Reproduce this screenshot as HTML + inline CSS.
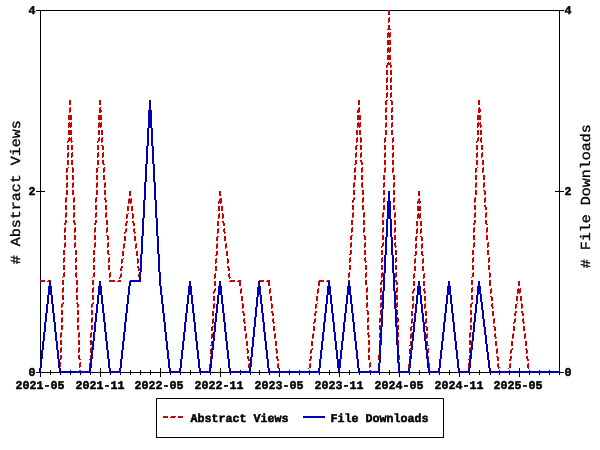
<!DOCTYPE html>
<html><head><meta charset="utf-8"><title>Chart</title>
<style>
html,body{margin:0;padding:0;background:#fff;overflow:hidden;}
svg{display:block;}
text{font-family:"Liberation Mono","DejaVu Sans Mono",monospace;fill:#000;text-rendering:geometricPrecision;}
.mb{font-size:11.8px;font-weight:bold;stroke:#000;stroke-width:0.5px;stroke-linejoin:miter;}
.lg{font-size:15px;stroke:#000;stroke-width:0.35px;}
</style></head>
<body>
<svg width="600" height="450" viewBox="0 0 600 450">
<rect width="600" height="450" fill="#fff"/>
<g shape-rendering="crispEdges">
<rect x="40" y="10" width="520" height="1"/>
<rect x="40" y="10" width="1" height="363"/>
<rect x="559" y="10" width="1" height="363"/>
<rect x="40" y="372" width="520" height="1"/>
<rect x="40" y="368" width="1" height="9"/>
<rect x="50" y="370" width="1" height="5"/>
<rect x="60" y="370" width="1" height="5"/>
<rect x="70" y="370" width="1" height="5"/>
<rect x="80" y="370" width="1" height="5"/>
<rect x="90" y="370" width="1" height="5"/>
<rect x="100" y="368" width="1" height="9"/>
<rect x="110" y="370" width="1" height="5"/>
<rect x="120" y="370" width="1" height="5"/>
<rect x="130" y="370" width="1" height="5"/>
<rect x="140" y="370" width="1" height="5"/>
<rect x="150" y="370" width="1" height="5"/>
<rect x="160" y="368" width="1" height="9"/>
<rect x="170" y="370" width="1" height="5"/>
<rect x="180" y="370" width="1" height="5"/>
<rect x="190" y="370" width="1" height="5"/>
<rect x="200" y="370" width="1" height="5"/>
<rect x="210" y="370" width="1" height="5"/>
<rect x="220" y="368" width="1" height="9"/>
<rect x="230" y="370" width="1" height="5"/>
<rect x="240" y="370" width="1" height="5"/>
<rect x="250" y="370" width="1" height="5"/>
<rect x="259" y="370" width="1" height="5"/>
<rect x="269" y="370" width="1" height="5"/>
<rect x="279" y="368" width="1" height="9"/>
<rect x="289" y="370" width="1" height="5"/>
<rect x="299" y="370" width="1" height="5"/>
<rect x="309" y="370" width="1" height="5"/>
<rect x="319" y="370" width="1" height="5"/>
<rect x="329" y="370" width="1" height="5"/>
<rect x="339" y="368" width="1" height="9"/>
<rect x="349" y="370" width="1" height="5"/>
<rect x="359" y="370" width="1" height="5"/>
<rect x="370" y="370" width="1" height="5"/>
<rect x="379" y="370" width="1" height="5"/>
<rect x="389" y="370" width="1" height="5"/>
<rect x="399" y="368" width="1" height="9"/>
<rect x="409" y="370" width="1" height="5"/>
<rect x="419" y="370" width="1" height="5"/>
<rect x="429" y="370" width="1" height="5"/>
<rect x="439" y="370" width="1" height="5"/>
<rect x="449" y="370" width="1" height="5"/>
<rect x="459" y="368" width="1" height="9"/>
<rect x="469" y="370" width="1" height="5"/>
<rect x="479" y="370" width="1" height="5"/>
<rect x="490" y="370" width="1" height="5"/>
<rect x="499" y="370" width="1" height="5"/>
<rect x="509" y="370" width="1" height="5"/>
<rect x="519" y="368" width="1" height="9"/>
<rect x="529" y="370" width="1" height="5"/>
<rect x="539" y="370" width="1" height="5"/>
<rect x="549" y="370" width="1" height="5"/>
<rect x="559" y="370" width="1" height="5"/>
<rect x="36" y="372" width="9" height="1"/>
<rect x="555" y="372" width="9" height="1"/>
<rect x="36" y="191" width="9" height="1"/>
<rect x="555" y="191" width="9" height="1"/>
<rect x="36" y="10" width="9" height="1"/>
<rect x="555" y="10" width="9" height="1"/>
<path fill="#cc0000" d="M388,10h2v5h-2zM389,17h1v1h-1zM388,18h2v4h-2zM388,22h1v1h-1zM388,25h2v4h-2zM387,29h4v1h-4zM388,32h1v1h-1zM390,32h1v1h-1zM387,33h4v4h-4zM387,37h1v1h-1zM389,37h1v1h-1zM387,40h4v5h-4zM388,47h1v1h-1zM390,47h1v1h-1zM387,48h4v4h-4zM387,52h1v1h-1zM389,52h1v1h-1zM387,55h4v5h-4zM388,62h1v1h-1zM390,62h1v1h-1zM387,63h4v2h-4zM386,65h2v2h-2zM390,65h2v2h-2zM386,67h1v1h-1zM390,67h1v1h-1zM386,70h2v5h-2zM390,70h2v5h-2zM387,77h1v1h-1zM391,77h1v1h-1zM386,78h2v4h-2zM390,78h2v4h-2zM386,82h1v1h-1zM390,82h1v1h-1zM386,85h2v5h-2zM390,85h2v5h-2zM387,92h1v1h-1zM391,92h1v1h-1zM386,93h2v4h-2zM390,93h2v4h-2zM386,97h1v1h-1zM390,97h1v1h-1zM69,100h2v5h-2zM99,100h2v5h-2zM149,100h2v5h-2zM358,100h2v5h-2zM386,100h2v1h-2zM390,100h2v1h-2zM478,100h2v5h-2zM385,101h2v4h-2zM391,101h2v4h-2zM70,107h1v1h-1zM100,107h1v1h-1zM150,107h1v1h-1zM359,107h1v1h-1zM386,107h1v1h-1zM392,107h1v1h-1zM479,107h1v1h-1zM69,108h2v4h-2zM99,108h2v2h-2zM149,108h2v2h-2zM358,108h2v2h-2zM385,108h2v4h-2zM391,108h2v4h-2zM478,108h2v1h-2zM478,109h3v3h-3zM99,110h3v2h-3zM148,110h4v2h-4zM357,110h3v2h-3zM69,112h1v1h-1zM99,112h2v1h-2zM148,112h1v1h-1zM150,112h1v1h-1zM357,112h2v1h-2zM385,112h1v1h-1zM391,112h1v1h-1zM478,112h2v1h-2zM68,115h4v5h-4zM98,115h4v5h-4zM148,115h4v5h-4zM357,115h4v5h-4zM385,115h2v5h-2zM391,115h2v5h-2zM477,115h4v5h-4zM69,122h1v1h-1zM71,122h1v1h-1zM99,122h1v1h-1zM101,122h1v1h-1zM149,122h1v1h-1zM151,122h1v1h-1zM358,122h1v1h-1zM360,122h1v1h-1zM386,122h1v1h-1zM392,122h1v1h-1zM478,122h1v1h-1zM480,122h1v1h-1zM68,123h4v4h-4zM98,123h4v4h-4zM148,123h4v4h-4zM357,123h4v4h-4zM385,123h2v4h-2zM391,123h2v4h-2zM477,123h4v2h-4zM477,125h2v2h-2zM480,125h2v2h-2zM68,127h1v1h-1zM70,127h1v1h-1zM98,127h1v1h-1zM100,127h1v1h-1zM148,127h1v1h-1zM150,127h1v1h-1zM357,127h1v1h-1zM359,127h1v1h-1zM385,127h1v1h-1zM391,127h1v1h-1zM477,127h1v1h-1zM480,127h1v1h-1zM68,130h4v5h-4zM98,130h2v5h-2zM101,130h2v5h-2zM147,130h2v5h-2zM151,130h2v5h-2zM356,130h2v5h-2zM359,130h2v5h-2zM385,130h2v5h-2zM391,130h2v5h-2zM477,130h2v5h-2zM480,130h2v5h-2zM69,137h1v1h-1zM71,137h1v1h-1zM99,137h1v1h-1zM102,137h1v1h-1zM148,137h1v1h-1zM152,137h1v1h-1zM357,137h1v1h-1zM360,137h1v1h-1zM385,137h1v1h-1zM393,137h1v1h-1zM478,137h1v1h-1zM481,137h1v1h-1zM68,138h4v3h-4zM98,138h2v3h-2zM101,138h2v4h-2zM147,138h2v4h-2zM151,138h2v4h-2zM356,138h2v4h-2zM360,138h2v4h-2zM384,138h2v4h-2zM392,138h2v4h-2zM477,138h2v3h-2zM480,138h2v4h-2zM67,141h2v1h-2zM71,141h2v1h-2zM97,141h2v1h-2zM476,141h2v1h-2zM67,142h1v1h-1zM71,142h1v1h-1zM97,142h1v1h-1zM101,142h1v1h-1zM147,142h1v1h-1zM151,142h1v1h-1zM356,142h1v1h-1zM360,142h1v1h-1zM384,142h1v1h-1zM392,142h1v1h-1zM476,142h1v1h-1zM481,142h1v1h-1zM67,145h2v5h-2zM71,145h2v5h-2zM97,145h2v5h-2zM101,145h2v1h-2zM147,145h2v1h-2zM151,145h2v1h-2zM356,145h2v1h-2zM360,145h2v5h-2zM384,145h2v5h-2zM392,145h2v5h-2zM476,145h2v5h-2zM481,145h2v5h-2zM102,146h2v4h-2zM146,146h2v4h-2zM152,146h2v4h-2zM355,146h2v4h-2zM68,152h1v1h-1zM72,152h1v1h-1zM98,152h1v1h-1zM103,152h1v1h-1zM147,152h1v1h-1zM153,152h1v1h-1zM356,152h1v1h-1zM361,152h1v1h-1zM385,152h1v1h-1zM393,152h1v1h-1zM477,152h1v1h-1zM482,152h1v1h-1zM67,153h2v4h-2zM71,153h2v4h-2zM97,153h2v4h-2zM102,153h2v4h-2zM146,153h2v4h-2zM152,153h2v4h-2zM355,153h2v4h-2zM360,153h2v4h-2zM384,153h2v4h-2zM392,153h2v4h-2zM476,153h2v4h-2zM481,153h2v4h-2zM67,157h1v1h-1zM71,157h1v1h-1zM97,157h1v1h-1zM102,157h1v1h-1zM146,157h1v1h-1zM152,157h1v1h-1zM355,157h1v1h-1zM360,157h1v1h-1zM384,157h1v1h-1zM392,157h1v1h-1zM476,157h1v1h-1zM481,157h1v1h-1zM67,160h2v5h-2zM71,160h2v5h-2zM97,160h2v5h-2zM102,160h2v4h-2zM146,160h2v4h-2zM152,160h2v4h-2zM355,160h2v4h-2zM360,160h2v2h-2zM384,160h2v5h-2zM392,160h2v5h-2zM476,160h2v5h-2zM482,160h2v5h-2zM361,162h2v3h-2zM103,164h2v1h-2zM145,164h2v1h-2zM153,164h2v1h-2zM354,164h2v1h-2zM68,167h1v1h-1zM72,167h1v1h-1zM98,167h1v1h-1zM104,167h1v1h-1zM146,167h1v1h-1zM154,167h1v1h-1zM355,167h1v1h-1zM362,167h1v1h-1zM385,167h1v1h-1zM393,167h1v1h-1zM477,167h1v1h-1zM483,167h1v1h-1zM66,168h2v4h-2zM72,168h2v4h-2zM96,168h2v4h-2zM103,168h2v4h-2zM145,168h2v4h-2zM153,168h2v4h-2zM354,168h2v4h-2zM361,168h2v4h-2zM384,168h2v4h-2zM392,168h2v4h-2zM475,168h2v4h-2zM482,168h2v4h-2zM66,172h1v1h-1zM72,172h1v1h-1zM96,172h1v1h-1zM103,172h1v1h-1zM145,172h1v1h-1zM153,172h1v1h-1zM354,172h1v1h-1zM361,172h1v1h-1zM384,172h1v1h-1zM392,172h1v1h-1zM475,172h1v1h-1zM482,172h1v1h-1zM66,175h2v5h-2zM72,175h2v5h-2zM96,175h2v5h-2zM103,175h2v5h-2zM145,175h2v5h-2zM153,175h2v5h-2zM354,175h2v5h-2zM361,175h2v5h-2zM383,175h2v5h-2zM393,175h2v5h-2zM475,175h2v5h-2zM483,175h2v5h-2zM67,182h1v1h-1zM73,182h1v1h-1zM97,182h1v1h-1zM105,182h1v1h-1zM145,182h1v1h-1zM155,182h1v1h-1zM354,182h1v1h-1zM362,182h1v1h-1zM384,182h1v1h-1zM394,182h1v1h-1zM476,182h1v1h-1zM484,182h1v1h-1zM66,183h2v4h-2zM72,183h2v4h-2zM96,183h2v4h-2zM104,183h2v4h-2zM144,183h2v4h-2zM154,183h2v4h-2zM353,183h2v4h-2zM361,183h2v4h-2zM383,183h2v4h-2zM393,183h2v4h-2zM475,183h2v4h-2zM483,183h2v4h-2zM66,187h1v1h-1zM72,187h1v1h-1zM96,187h1v1h-1zM104,187h1v1h-1zM144,187h1v1h-1zM154,187h1v1h-1zM353,187h1v1h-1zM362,187h1v1h-1zM383,187h1v1h-1zM393,187h1v1h-1zM475,187h1v1h-1zM483,187h1v1h-1zM66,190h2v5h-2zM72,190h2v5h-2zM96,190h2v5h-2zM104,190h2v5h-2zM144,190h2v5h-2zM154,190h2v5h-2zM353,190h2v5h-2zM362,190h2v5h-2zM383,190h2v5h-2zM393,190h2v5h-2zM475,190h2v5h-2zM483,190h2v1h-2zM129,191h2v5h-2zM219,191h2v5h-2zM418,191h2v5h-2zM484,191h2v4h-2zM66,197h1v1h-1zM74,197h1v1h-1zM96,197h1v1h-1zM105,197h1v1h-1zM145,197h1v1h-1zM155,197h1v1h-1zM354,197h1v1h-1zM363,197h1v1h-1zM384,197h1v1h-1zM394,197h1v1h-1zM475,197h1v1h-1zM485,197h1v1h-1zM65,198h2v4h-2zM73,198h2v4h-2zM95,198h2v4h-2zM104,198h2v2h-2zM129,198h1v1h-1zM131,198h1v1h-1zM144,198h2v2h-2zM154,198h2v2h-2zM220,198h2v1h-2zM353,198h2v2h-2zM362,198h2v4h-2zM383,198h2v4h-2zM393,198h2v4h-2zM419,198h1v1h-1zM474,198h2v4h-2zM484,198h2v4h-2zM128,199h4v4h-4zM219,199h3v2h-3zM418,199h2v2h-2zM105,200h2v2h-2zM143,200h2v2h-2zM155,200h2v2h-2zM352,200h2v2h-2zM218,201h4v2h-4zM417,201h4v2h-4zM65,202h1v1h-1zM73,202h1v1h-1zM95,202h1v1h-1zM105,202h1v1h-1zM143,202h1v1h-1zM155,202h1v1h-1zM352,202h1v1h-1zM362,202h1v1h-1zM383,202h1v1h-1zM393,202h1v1h-1zM474,202h1v1h-1zM484,202h1v1h-1zM128,203h1v1h-1zM130,203h1v1h-1zM218,203h1v1h-1zM220,203h1v1h-1zM417,203h1v1h-1zM419,203h1v1h-1zM65,205h2v5h-2zM73,205h2v5h-2zM95,205h2v5h-2zM105,205h2v5h-2zM143,205h2v5h-2zM155,205h2v5h-2zM352,205h2v5h-2zM362,205h2v5h-2zM383,205h2v5h-2zM393,205h2v5h-2zM474,205h2v5h-2zM484,205h2v2h-2zM127,206h2v5h-2zM131,206h2v5h-2zM218,206h2v5h-2zM221,206h2v5h-2zM417,206h4v5h-4zM485,207h2v3h-2zM66,212h1v1h-1zM74,212h1v1h-1zM96,212h1v1h-1zM106,212h1v1h-1zM144,212h1v1h-1zM156,212h1v1h-1zM353,212h1v1h-1zM364,212h1v1h-1zM383,212h1v1h-1zM395,212h1v1h-1zM475,212h1v1h-1zM486,212h1v1h-1zM65,213h2v4h-2zM73,213h2v4h-2zM95,213h2v4h-2zM105,213h2v4h-2zM128,213h1v1h-1zM132,213h1v1h-1zM143,213h2v4h-2zM155,213h2v4h-2zM219,213h1v1h-1zM222,213h1v1h-1zM352,213h2v4h-2zM363,213h2v4h-2zM382,213h2v4h-2zM394,213h2v4h-2zM418,213h1v1h-1zM420,213h1v1h-1zM474,213h2v4h-2zM485,213h2v4h-2zM126,214h2v4h-2zM132,214h2v4h-2zM218,214h2v4h-2zM222,214h2v4h-2zM417,214h4v4h-4zM65,217h1v1h-1zM73,217h1v1h-1zM95,217h1v1h-1zM105,217h1v1h-1zM143,217h1v1h-1zM155,217h1v1h-1zM352,217h1v1h-1zM363,217h1v1h-1zM382,217h1v1h-1zM394,217h1v1h-1zM474,217h1v1h-1zM485,217h1v1h-1zM126,218h1v1h-1zM132,218h1v1h-1zM218,218h1v1h-1zM222,218h1v1h-1zM417,218h1v1h-1zM419,218h1v1h-1zM65,220h2v3h-2zM73,220h2v3h-2zM95,220h2v3h-2zM106,220h2v5h-2zM142,220h2v5h-2zM156,220h2v5h-2zM351,220h2v5h-2zM363,220h2v5h-2zM382,220h2v5h-2zM394,220h2v5h-2zM474,220h2v3h-2zM485,220h2v4h-2zM126,221h2v2h-2zM132,221h2v2h-2zM217,221h2v5h-2zM222,221h2v2h-2zM416,221h2v5h-2zM420,221h2v5h-2zM64,223h2v2h-2zM74,223h2v2h-2zM94,223h2v2h-2zM125,223h2v3h-2zM133,223h2v3h-2zM223,223h2v3h-2zM473,223h2v2h-2zM486,224h2v1h-2zM65,227h1v1h-1zM75,227h1v1h-1zM95,227h1v1h-1zM107,227h1v1h-1zM143,227h1v1h-1zM157,227h1v1h-1zM352,227h1v1h-1zM364,227h1v1h-1zM383,227h1v1h-1zM395,227h1v1h-1zM474,227h1v1h-1zM487,227h1v1h-1zM64,228h2v4h-2zM74,228h2v4h-2zM94,228h2v4h-2zM106,228h2v4h-2zM126,228h1v1h-1zM134,228h1v1h-1zM142,228h2v4h-2zM156,228h2v4h-2zM218,228h1v1h-1zM224,228h1v1h-1zM351,228h2v4h-2zM363,228h2v4h-2zM382,228h2v4h-2zM394,228h2v4h-2zM417,228h1v1h-1zM421,228h1v1h-1zM473,228h2v4h-2zM486,228h2v4h-2zM125,229h2v3h-2zM133,229h2v3h-2zM217,229h2v4h-2zM223,229h2v3h-2zM416,229h2v4h-2zM420,229h2v4h-2zM64,232h1v1h-1zM74,232h1v1h-1zM94,232h1v1h-1zM106,232h1v1h-1zM124,232h2v1h-2zM134,232h2v1h-2zM142,232h1v1h-1zM156,232h1v1h-1zM224,232h2v1h-2zM351,232h1v1h-1zM363,232h1v1h-1zM382,232h1v1h-1zM394,232h1v1h-1zM473,232h1v1h-1zM486,232h1v1h-1zM124,233h1v1h-1zM134,233h1v1h-1zM217,233h1v1h-1zM224,233h1v1h-1zM416,233h1v1h-1zM420,233h1v1h-1zM64,235h2v5h-2zM74,235h2v5h-2zM94,235h2v5h-2zM106,235h2v1h-2zM142,235h2v1h-2zM156,235h2v1h-2zM351,235h2v1h-2zM363,235h2v1h-2zM382,235h2v5h-2zM394,235h2v5h-2zM473,235h2v5h-2zM486,235h2v5h-2zM107,236h2v4h-2zM124,236h2v5h-2zM134,236h2v5h-2zM141,236h2v4h-2zM157,236h2v4h-2zM217,236h2v1h-2zM224,236h2v5h-2zM350,236h2v4h-2zM364,236h2v4h-2zM416,236h2v1h-2zM420,236h2v1h-2zM216,237h2v4h-2zM415,237h2v4h-2zM421,237h2v4h-2zM65,242h1v1h-1zM75,242h1v1h-1zM95,242h1v1h-1zM108,242h1v1h-1zM142,242h1v1h-1zM158,242h1v1h-1zM351,242h1v1h-1zM365,242h1v1h-1zM383,242h1v1h-1zM395,242h1v1h-1zM474,242h1v1h-1zM488,242h1v1h-1zM64,243h2v4h-2zM74,243h2v4h-2zM94,243h2v4h-2zM107,243h2v4h-2zM124,243h1v1h-1zM136,243h1v1h-1zM141,243h2v4h-2zM157,243h2v4h-2zM217,243h1v1h-1zM226,243h1v1h-1zM350,243h2v4h-2zM364,243h2v4h-2zM382,243h2v3h-2zM394,243h2v3h-2zM416,243h1v1h-1zM422,243h1v1h-1zM473,243h2v4h-2zM487,243h2v4h-2zM123,244h2v4h-2zM135,244h2v4h-2zM216,244h2v4h-2zM225,244h2v4h-2zM415,244h2v4h-2zM421,244h2v4h-2zM381,246h2v1h-2zM395,246h2v1h-2zM64,247h1v1h-1zM74,247h1v1h-1zM94,247h1v1h-1zM107,247h1v1h-1zM141,247h1v1h-1zM157,247h1v1h-1zM350,247h1v1h-1zM364,247h1v1h-1zM381,247h1v1h-1zM395,247h1v1h-1zM473,247h1v1h-1zM487,247h1v1h-1zM123,248h1v1h-1zM135,248h1v1h-1zM216,248h1v1h-1zM225,248h1v1h-1zM415,248h1v1h-1zM421,248h1v1h-1zM63,250h2v5h-2zM75,250h2v5h-2zM93,250h2v5h-2zM107,250h2v4h-2zM141,250h2v4h-2zM157,250h2v4h-2zM350,250h2v4h-2zM364,250h2v5h-2zM381,250h2v5h-2zM395,250h2v5h-2zM472,250h2v5h-2zM487,250h2v5h-2zM122,251h2v5h-2zM136,251h2v5h-2zM216,251h2v4h-2zM226,251h2v5h-2zM415,251h2v4h-2zM421,251h2v4h-2zM108,254h2v1h-2zM140,254h2v1h-2zM158,254h2v1h-2zM349,254h2v1h-2zM215,255h2v1h-2zM414,255h2v1h-2zM422,255h2v1h-2zM64,257h1v1h-1zM76,257h1v1h-1zM94,257h1v1h-1zM109,257h1v1h-1zM141,257h1v1h-1zM159,257h1v1h-1zM350,257h1v1h-1zM365,257h1v1h-1zM382,257h1v1h-1zM396,257h1v1h-1zM473,257h1v1h-1zM489,257h1v1h-1zM63,258h2v4h-2zM75,258h2v4h-2zM93,258h2v4h-2zM108,258h2v4h-2zM123,258h1v1h-1zM137,258h1v1h-1zM140,258h2v4h-2zM158,258h2v4h-2zM216,258h1v1h-1zM227,258h1v1h-1zM349,258h2v4h-2zM364,258h2v3h-2zM381,258h2v4h-2zM395,258h2v4h-2zM415,258h1v1h-1zM423,258h1v1h-1zM472,258h2v4h-2zM488,258h2v4h-2zM121,259h2v4h-2zM137,259h2v4h-2zM215,259h2v4h-2zM227,259h2v4h-2zM414,259h2v4h-2zM422,259h2v4h-2zM365,261h2v1h-2zM63,262h1v1h-1zM75,262h1v1h-1zM93,262h1v1h-1zM108,262h1v1h-1zM140,262h1v1h-1zM158,262h1v1h-1zM349,262h1v1h-1zM365,262h1v1h-1zM381,262h1v1h-1zM395,262h1v1h-1zM472,262h1v1h-1zM488,262h1v1h-1zM121,263h1v1h-1zM137,263h1v1h-1zM215,263h1v1h-1zM227,263h1v1h-1zM414,263h1v1h-1zM422,263h1v1h-1zM63,265h2v5h-2zM75,265h2v5h-2zM93,265h2v5h-2zM108,265h2v5h-2zM140,265h2v3h-2zM158,265h2v5h-2zM349,265h2v5h-2zM365,265h2v5h-2zM381,265h2v5h-2zM395,265h2v5h-2zM472,265h2v5h-2zM488,265h2v5h-2zM121,266h2v2h-2zM137,266h2v2h-2zM215,266h2v5h-2zM227,266h2v2h-2zM414,266h2v5h-2zM422,266h2v5h-2zM120,268h2v3h-2zM138,268h4v2h-4zM228,268h2v3h-2zM138,270h2v1h-2zM64,272h1v1h-1zM76,272h1v1h-1zM94,272h1v1h-1zM110,272h1v1h-1zM140,272h1v1h-1zM160,272h1v1h-1zM349,272h1v1h-1zM366,272h1v1h-1zM382,272h1v1h-1zM396,272h1v1h-1zM473,272h1v1h-1zM489,272h1v1h-1zM63,273h2v4h-2zM75,273h2v4h-2zM93,273h2v4h-2zM109,273h2v4h-2zM121,273h1v1h-1zM139,273h2v1h-2zM159,273h2v4h-2zM215,273h1v1h-1zM229,273h1v1h-1zM348,273h2v4h-2zM365,273h2v4h-2zM381,273h2v4h-2zM395,273h2v4h-2zM414,273h1v1h-1zM424,273h1v1h-1zM472,273h2v4h-2zM489,273h2v4h-2zM120,274h2v3h-2zM138,274h3v3h-3zM214,274h2v4h-2zM228,274h2v3h-2zM413,274h2v4h-2zM423,274h2v4h-2zM62,277h1v1h-1zM76,277h1v1h-1zM92,277h1v1h-1zM109,277h1v1h-1zM119,277h2v1h-2zM139,277h2v1h-2zM159,277h1v1h-1zM229,277h2v1h-2zM348,277h1v1h-1zM365,277h1v1h-1zM381,277h1v1h-1zM395,277h1v1h-1zM471,277h1v1h-1zM489,277h1v1h-1zM119,278h1v1h-1zM139,278h1v1h-1zM214,278h1v1h-1zM229,278h1v1h-1zM413,278h1v1h-1zM423,278h1v1h-1zM40,280h5v2h-5zM48,280h3v1h-3zM62,280h2v5h-2zM76,280h2v5h-2zM92,280h2v5h-2zM109,280h6v2h-6zM118,280h3v1h-3zM139,280h2v2h-2zM159,280h2v6h-2zM230,280h5v1h-5zM238,280h3v1h-3zM259,280h5v1h-5zM267,280h3v1h-3zM319,280h5v1h-5zM327,280h3v1h-3zM348,280h2v6h-2zM365,280h2v5h-2zM381,280h2v2h-2zM395,280h2v2h-2zM471,280h2v5h-2zM489,280h2v6h-2zM47,281h4v1h-4zM117,281h4v1h-4zM189,281h2v5h-2zM214,281h2v5h-2zM229,281h6v1h-6zM237,281h4v1h-4zM258,281h6v1h-6zM266,281h4v1h-4zM318,281h6v1h-6zM326,281h4v1h-4zM413,281h2v5h-2zM423,281h2v5h-2zM448,281h2v5h-2zM518,281h2v5h-2zM49,282h2v4h-2zM239,282h2v4h-2zM258,282h2v4h-2zM268,282h2v4h-2zM318,282h2v4h-2zM328,282h2v4h-2zM380,282h2v3h-2zM396,282h2v3h-2zM63,287h1v1h-1zM77,287h1v1h-1zM93,287h1v1h-1zM367,287h1v1h-1zM381,287h1v1h-1zM397,287h1v1h-1zM472,287h1v1h-1zM51,288h1v1h-1zM62,288h2v4h-2zM76,288h2v4h-2zM92,288h2v4h-2zM161,288h1v1h-1zM189,288h1v1h-1zM191,288h1v1h-1zM215,288h1v1h-1zM241,288h1v1h-1zM258,288h1v1h-1zM270,288h1v1h-1zM318,288h1v1h-1zM330,288h1v1h-1zM348,288h1v1h-1zM366,288h2v4h-2zM380,288h2v4h-2zM396,288h2v4h-2zM414,288h1v1h-1zM424,288h1v1h-1zM448,288h1v1h-1zM450,288h1v1h-1zM471,288h2v4h-2zM491,288h1v1h-1zM518,288h1v1h-1zM520,288h1v1h-1zM50,289h2v4h-2zM160,289h2v4h-2zM188,289h4v4h-4zM214,289h2v2h-2zM240,289h2v4h-2zM257,289h2v4h-2zM269,289h2v4h-2zM317,289h2v4h-2zM329,289h2v4h-2zM347,289h2v4h-2zM413,289h2v2h-2zM423,289h2v2h-2zM447,289h4v4h-4zM490,289h2v4h-2zM517,289h4v4h-4zM213,291h2v2h-2zM412,291h2v2h-2zM424,291h2v2h-2zM62,292h1v1h-1zM76,292h1v1h-1zM92,292h1v1h-1zM366,292h1v1h-1zM380,292h1v1h-1zM396,292h1v1h-1zM471,292h1v1h-1zM50,293h1v1h-1zM160,293h1v1h-1zM188,293h1v1h-1zM190,293h1v1h-1zM213,293h1v1h-1zM240,293h1v1h-1zM257,293h1v1h-1zM269,293h1v1h-1zM317,293h1v1h-1zM329,293h1v1h-1zM347,293h1v1h-1zM412,293h1v1h-1zM424,293h1v1h-1zM447,293h1v1h-1zM449,293h1v1h-1zM490,293h1v1h-1zM517,293h1v1h-1zM519,293h1v1h-1zM62,295h2v5h-2zM76,295h2v5h-2zM92,295h2v5h-2zM366,295h2v5h-2zM380,295h2v5h-2zM396,295h2v5h-2zM471,295h2v5h-2zM51,296h2v5h-2zM161,296h2v5h-2zM187,296h2v5h-2zM191,296h2v5h-2zM213,296h2v5h-2zM241,296h2v5h-2zM257,296h2v1h-2zM270,296h2v5h-2zM316,296h2v5h-2zM330,296h2v5h-2zM346,296h2v5h-2zM412,296h2v5h-2zM424,296h2v5h-2zM446,296h2v5h-2zM450,296h2v5h-2zM490,296h2v1h-2zM516,296h2v5h-2zM520,296h2v5h-2zM256,297h2v4h-2zM491,297h2v4h-2zM63,302h1v1h-1zM77,302h1v1h-1zM93,302h1v1h-1zM367,302h1v1h-1zM381,302h1v1h-1zM397,302h1v1h-1zM472,302h1v1h-1zM52,303h1v1h-1zM62,303h2v1h-2zM76,303h2v1h-2zM92,303h2v1h-2zM162,303h1v1h-1zM188,303h1v1h-1zM192,303h1v1h-1zM214,303h1v1h-1zM242,303h1v1h-1zM257,303h1v1h-1zM271,303h1v1h-1zM317,303h1v1h-1zM331,303h1v1h-1zM347,303h1v1h-1zM366,303h2v4h-2zM380,303h2v4h-2zM396,303h2v4h-2zM413,303h1v1h-1zM425,303h1v1h-1zM447,303h1v1h-1zM451,303h1v1h-1zM471,303h2v1h-2zM492,303h1v1h-1zM517,303h1v1h-1zM521,303h1v1h-1zM52,304h2v4h-2zM61,304h2v3h-2zM77,304h2v3h-2zM91,304h2v3h-2zM162,304h2v4h-2zM186,304h2v4h-2zM192,304h2v4h-2zM213,304h2v4h-2zM242,304h2v4h-2zM256,304h2v3h-2zM271,304h2v4h-2zM315,304h2v4h-2zM331,304h2v4h-2zM345,304h2v4h-2zM412,304h2v4h-2zM424,304h2v4h-2zM445,304h2v4h-2zM451,304h2v4h-2zM470,304h2v3h-2zM491,304h2v3h-2zM515,304h2v4h-2zM521,304h2v4h-2zM61,307h1v1h-1zM77,307h1v1h-1zM91,307h1v1h-1zM255,307h2v1h-2zM366,307h1v1h-1zM380,307h1v1h-1zM396,307h1v1h-1zM470,307h1v1h-1zM492,307h2v1h-2zM52,308h1v1h-1zM162,308h1v1h-1zM186,308h1v1h-1zM192,308h1v1h-1zM213,308h1v1h-1zM242,308h1v1h-1zM255,308h1v1h-1zM271,308h1v1h-1zM315,308h1v1h-1zM331,308h1v1h-1zM345,308h1v1h-1zM412,308h1v1h-1zM424,308h1v1h-1zM445,308h1v1h-1zM451,308h1v1h-1zM492,308h1v1h-1zM515,308h1v1h-1zM521,308h1v1h-1zM61,310h2v5h-2zM77,310h2v5h-2zM91,310h2v5h-2zM366,310h2v1h-2zM380,310h2v5h-2zM396,310h2v5h-2zM470,310h2v5h-2zM52,311h2v2h-2zM162,311h2v2h-2zM186,311h2v2h-2zM192,311h2v2h-2zM212,311h2v5h-2zM242,311h2v2h-2zM255,311h2v5h-2zM271,311h2v2h-2zM315,311h2v2h-2zM331,311h2v2h-2zM345,311h2v2h-2zM367,311h2v4h-2zM411,311h2v5h-2zM425,311h2v5h-2zM445,311h2v2h-2zM451,311h2v2h-2zM492,311h2v5h-2zM515,311h2v2h-2zM521,311h2v2h-2zM53,313h2v3h-2zM163,313h2v3h-2zM185,313h2v3h-2zM193,313h2v3h-2zM243,313h2v3h-2zM272,313h2v3h-2zM314,313h2v3h-2zM332,313h2v3h-2zM344,313h2v3h-2zM444,313h2v3h-2zM452,313h2v3h-2zM514,313h2v3h-2zM522,313h2v3h-2zM62,317h1v1h-1zM78,317h1v1h-1zM92,317h1v1h-1zM368,317h1v1h-1zM381,317h1v1h-1zM397,317h1v1h-1zM471,317h1v1h-1zM54,318h1v1h-1zM61,318h2v4h-2zM77,318h2v4h-2zM91,318h2v4h-2zM164,318h1v1h-1zM186,318h1v1h-1zM194,318h1v1h-1zM213,318h1v1h-1zM244,318h1v1h-1zM255,318h1v1h-1zM273,318h1v1h-1zM315,318h1v1h-1zM333,318h1v1h-1zM345,318h1v1h-1zM367,318h2v4h-2zM379,318h2v4h-2zM397,318h2v4h-2zM412,318h1v1h-1zM426,318h1v1h-1zM445,318h1v1h-1zM453,318h1v1h-1zM470,318h2v4h-2zM494,318h1v1h-1zM515,318h1v1h-1zM523,318h1v1h-1zM53,319h2v3h-2zM163,319h2v3h-2zM185,319h2v3h-2zM193,319h2v3h-2zM212,319h2v4h-2zM243,319h2v3h-2zM254,319h2v4h-2zM272,319h2v3h-2zM314,319h2v3h-2zM332,319h2v3h-2zM344,319h2v3h-2zM411,319h2v4h-2zM425,319h2v4h-2zM444,319h2v3h-2zM452,319h2v3h-2zM493,319h2v4h-2zM514,319h2v3h-2zM522,319h2v3h-2zM54,322h2v1h-2zM61,322h1v1h-1zM77,322h1v1h-1zM91,322h1v1h-1zM164,322h2v1h-2zM184,322h2v1h-2zM194,322h2v1h-2zM244,322h2v1h-2zM273,322h2v1h-2zM313,322h2v1h-2zM333,322h2v1h-2zM343,322h2v1h-2zM367,322h1v1h-1zM379,322h1v1h-1zM397,322h1v1h-1zM443,322h2v1h-2zM453,322h2v1h-2zM470,322h1v1h-1zM513,322h2v1h-2zM523,322h2v1h-2zM54,323h1v1h-1zM164,323h1v1h-1zM184,323h1v1h-1zM194,323h1v1h-1zM212,323h1v1h-1zM244,323h1v1h-1zM254,323h1v1h-1zM273,323h1v1h-1zM313,323h1v1h-1zM333,323h1v1h-1zM343,323h1v1h-1zM411,323h1v1h-1zM425,323h1v1h-1zM443,323h1v1h-1zM453,323h1v1h-1zM493,323h1v1h-1zM513,323h1v1h-1zM523,323h1v1h-1zM61,325h2v5h-2zM77,325h2v5h-2zM91,325h2v5h-2zM367,325h2v5h-2zM379,325h2v5h-2zM397,325h2v5h-2zM470,325h2v5h-2zM54,326h2v5h-2zM164,326h2v5h-2zM184,326h2v5h-2zM194,326h2v5h-2zM212,326h2v1h-2zM244,326h2v5h-2zM254,326h2v1h-2zM273,326h2v5h-2zM313,326h2v5h-2zM333,326h2v5h-2zM343,326h2v5h-2zM411,326h2v1h-2zM425,326h2v1h-2zM443,326h2v5h-2zM453,326h2v5h-2zM493,326h2v1h-2zM513,326h2v5h-2zM523,326h2v5h-2zM211,327h2v4h-2zM253,327h2v4h-2zM410,327h2v4h-2zM426,327h2v4h-2zM494,327h2v4h-2zM61,332h1v1h-1zM79,332h1v1h-1zM91,332h1v1h-1zM368,332h1v1h-1zM380,332h1v1h-1zM398,332h1v1h-1zM470,332h1v1h-1zM56,333h1v1h-1zM60,333h2v4h-2zM78,333h2v4h-2zM90,333h2v4h-2zM166,333h1v1h-1zM184,333h1v1h-1zM196,333h1v1h-1zM212,333h1v1h-1zM246,333h1v1h-1zM254,333h1v1h-1zM275,333h1v1h-1zM313,333h1v1h-1zM335,333h1v1h-1zM343,333h1v1h-1zM367,333h2v2h-2zM379,333h2v4h-2zM397,333h2v4h-2zM411,333h1v1h-1zM427,333h1v1h-1zM443,333h1v1h-1zM455,333h1v1h-1zM469,333h2v4h-2zM495,333h1v1h-1zM513,333h1v1h-1zM525,333h1v1h-1zM55,334h2v4h-2zM165,334h2v4h-2zM183,334h2v4h-2zM195,334h2v4h-2zM211,334h2v4h-2zM245,334h2v4h-2zM253,334h2v3h-2zM274,334h2v4h-2zM312,334h2v4h-2zM334,334h2v4h-2zM342,334h2v4h-2zM410,334h2v4h-2zM426,334h2v4h-2zM442,334h2v4h-2zM454,334h2v4h-2zM494,334h2v3h-2zM512,334h2v4h-2zM524,334h2v4h-2zM368,335h2v2h-2zM60,337h1v1h-1zM78,337h1v1h-1zM90,337h1v1h-1zM252,337h2v1h-2zM368,337h1v1h-1zM379,337h1v1h-1zM397,337h1v1h-1zM469,337h1v1h-1zM495,337h2v1h-2zM55,338h1v1h-1zM165,338h1v1h-1zM183,338h1v1h-1zM195,338h1v1h-1zM211,338h1v1h-1zM245,338h1v1h-1zM252,338h1v1h-1zM274,338h1v1h-1zM312,338h1v1h-1zM334,338h1v1h-1zM342,338h1v1h-1zM410,338h1v1h-1zM426,338h1v1h-1zM442,338h1v1h-1zM454,338h1v1h-1zM495,338h1v1h-1zM512,338h1v1h-1zM524,338h1v1h-1zM60,340h2v5h-2zM78,340h2v5h-2zM90,340h2v5h-2zM368,340h2v5h-2zM379,340h2v5h-2zM397,340h2v5h-2zM469,340h2v5h-2zM56,341h2v5h-2zM166,341h2v5h-2zM182,341h2v5h-2zM196,341h2v5h-2zM211,341h2v4h-2zM246,341h2v5h-2zM252,341h2v5h-2zM275,341h2v5h-2zM311,341h2v5h-2zM335,341h2v5h-2zM341,341h2v5h-2zM410,341h2v4h-2zM426,341h2v4h-2zM441,341h2v5h-2zM455,341h2v5h-2zM495,341h2v5h-2zM511,341h2v5h-2zM525,341h2v5h-2zM210,345h2v1h-2zM409,345h2v1h-2zM427,345h2v1h-2zM61,347h1v1h-1zM79,347h1v1h-1zM91,347h1v1h-1zM369,347h1v1h-1zM380,347h1v1h-1zM398,347h1v1h-1zM470,347h1v1h-1zM57,348h1v1h-1zM60,348h2v4h-2zM78,348h2v4h-2zM90,348h2v4h-2zM167,348h1v1h-1zM183,348h1v1h-1zM197,348h1v1h-1zM211,348h1v1h-1zM247,348h1v1h-1zM252,348h1v1h-1zM276,348h1v1h-1zM312,348h1v1h-1zM336,348h1v1h-1zM342,348h1v1h-1zM368,348h2v4h-2zM379,348h2v4h-2zM397,348h2v4h-2zM410,348h1v1h-1zM428,348h1v1h-1zM442,348h1v1h-1zM456,348h1v1h-1zM469,348h2v4h-2zM497,348h1v1h-1zM512,348h1v1h-1zM526,348h1v1h-1zM56,349h2v1h-2zM166,349h2v1h-2zM182,349h2v1h-2zM196,349h2v1h-2zM210,349h2v4h-2zM246,349h2v1h-2zM251,349h2v4h-2zM275,349h2v1h-2zM311,349h2v1h-2zM335,349h2v1h-2zM341,349h2v1h-2zM409,349h2v4h-2zM427,349h2v4h-2zM441,349h2v1h-2zM455,349h2v1h-2zM496,349h2v4h-2zM511,349h2v1h-2zM525,349h2v1h-2zM57,350h2v3h-2zM167,350h2v3h-2zM181,350h2v3h-2zM197,350h2v3h-2zM247,350h2v3h-2zM276,350h2v3h-2zM310,350h2v3h-2zM336,350h2v3h-2zM340,350h2v3h-2zM440,350h2v3h-2zM456,350h2v3h-2zM510,350h2v3h-2zM526,350h2v3h-2zM60,352h1v1h-1zM78,352h1v1h-1zM90,352h1v1h-1zM368,352h1v1h-1zM379,352h1v1h-1zM397,352h1v1h-1zM469,352h1v1h-1zM57,353h1v1h-1zM167,353h1v1h-1zM181,353h1v1h-1zM197,353h1v1h-1zM210,353h1v1h-1zM247,353h1v1h-1zM251,353h1v1h-1zM276,353h1v1h-1zM310,353h1v1h-1zM336,353h1v1h-1zM340,353h1v1h-1zM409,353h1v1h-1zM427,353h1v1h-1zM440,353h1v1h-1zM456,353h1v1h-1zM496,353h1v1h-1zM510,353h1v1h-1zM526,353h1v1h-1zM60,355h2v4h-2zM78,355h2v4h-2zM90,355h2v4h-2zM368,355h2v5h-2zM378,355h2v5h-2zM398,355h2v5h-2zM469,355h2v4h-2zM57,356h2v3h-2zM167,356h2v3h-2zM181,356h2v3h-2zM197,356h2v3h-2zM210,356h2v5h-2zM247,356h2v3h-2zM251,356h2v1h-2zM276,356h2v3h-2zM310,356h2v3h-2zM336,356h2v3h-2zM340,356h2v3h-2zM409,356h2v5h-2zM427,356h2v5h-2zM440,356h2v3h-2zM456,356h2v3h-2zM496,356h2v1h-2zM510,356h2v3h-2zM526,356h2v3h-2zM250,357h2v2h-2zM497,357h2v4h-2zM58,359h3v1h-3zM79,359h2v1h-2zM89,359h2v1h-2zM168,359h2v2h-2zM180,359h2v2h-2zM198,359h2v2h-2zM248,359h4v2h-4zM277,359h2v2h-2zM309,359h2v2h-2zM337,359h4v2h-4zM439,359h2v2h-2zM457,359h2v2h-2zM468,359h2v1h-2zM509,359h2v2h-2zM527,359h2v2h-2zM58,360h2v1h-2zM60,362h1v1h-1zM80,362h1v1h-1zM90,362h1v1h-1zM370,362h1v1h-1zM379,362h1v1h-1zM399,362h1v1h-1zM469,362h1v1h-1zM59,363h2v1h-2zM79,363h2v4h-2zM89,363h2v4h-2zM169,363h1v1h-1zM181,363h1v1h-1zM199,363h1v1h-1zM210,363h1v1h-1zM249,363h1v1h-1zM251,363h1v1h-1zM278,363h1v1h-1zM310,363h1v1h-1zM338,363h1v1h-1zM340,363h1v1h-1zM369,363h2v4h-2zM378,363h2v4h-2zM398,363h2v4h-2zM409,363h1v1h-1zM429,363h1v1h-1zM440,363h1v1h-1zM458,363h1v1h-1zM468,363h2v4h-2zM498,363h1v1h-1zM510,363h1v1h-1zM528,363h1v1h-1zM58,364h3v3h-3zM168,364h2v4h-2zM180,364h2v4h-2zM198,364h2v4h-2zM209,364h2v4h-2zM248,364h4v3h-4zM277,364h2v4h-2zM309,364h2v4h-2zM337,364h4v4h-4zM408,364h2v4h-2zM428,364h2v4h-2zM439,364h2v4h-2zM457,364h2v4h-2zM497,364h2v3h-2zM509,364h2v4h-2zM527,364h2v4h-2zM58,367h2v1h-2zM79,367h1v1h-1zM89,367h1v1h-1zM248,367h3v1h-3zM369,367h1v1h-1zM378,367h1v1h-1zM398,367h1v1h-1zM468,367h1v1h-1zM498,367h2v1h-2zM59,368h1v1h-1zM169,368h1v1h-1zM179,368h1v1h-1zM199,368h1v1h-1zM209,368h1v1h-1zM249,368h1v1h-1zM278,368h1v1h-1zM308,368h1v1h-1zM338,368h1v1h-1zM408,368h1v1h-1zM428,368h1v1h-1zM438,368h1v1h-1zM458,368h1v1h-1zM498,368h1v1h-1zM508,368h1v1h-1zM528,368h1v1h-1zM59,370h2v3h-2zM79,370h2v1h-2zM89,370h2v1h-2zM369,370h2v1h-2zM378,370h2v2h-2zM398,370h2v1h-2zM468,370h2v1h-2zM79,371h6v2h-6zM88,371h3v1h-3zM169,371h6v2h-6zM178,371h3v1h-3zM199,371h6v2h-6zM208,371h3v1h-3zM249,371h2v2h-2zM278,371h6v2h-6zM287,371h7v1h-7zM297,371h7v1h-7zM307,371h3v1h-3zM338,371h2v2h-2zM369,371h6v2h-6zM398,371h6v2h-6zM407,371h3v1h-3zM428,371h6v2h-6zM437,371h3v1h-3zM458,371h6v2h-6zM467,371h3v1h-3zM498,371h6v2h-6zM507,371h3v1h-3zM528,371h6v2h-6zM537,371h7v1h-7zM547,371h7v1h-7zM557,371h3v1h-3zM87,372h4v1h-4zM177,372h4v1h-4zM207,372h4v1h-4zM286,372h8v1h-8zM296,372h8v1h-8zM306,372h4v1h-4zM377,372h3v1h-3zM406,372h4v1h-4zM436,372h4v1h-4zM466,372h4v1h-4zM506,372h4v1h-4zM536,372h8v1h-8zM546,372h8v1h-8zM556,372h4v1h-4z"/>
<path fill="#0000bb" d="M149,100h2v10h-2zM148,110h4v18h-4zM147,128h2v18h-2zM151,128h2v18h-2zM146,146h2v18h-2zM152,146h2v18h-2zM145,164h2v18h-2zM153,164h2v18h-2zM144,182h2v18h-2zM154,182h2v18h-2zM388,191h2v10h-2zM143,200h2v18h-2zM155,200h2v18h-2zM387,201h4v18h-4zM142,218h2v18h-2zM156,218h2v18h-2zM386,219h2v18h-2zM390,219h2v18h-2zM141,236h2v18h-2zM157,236h2v18h-2zM385,237h2v18h-2zM391,237h2v18h-2zM140,254h2v18h-2zM158,254h2v18h-2zM384,255h2v18h-2zM392,255h2v18h-2zM139,272h2v8h-2zM159,272h2v14h-2zM383,273h2v18h-2zM393,273h2v18h-2zM130,280h11v1h-11zM49,281h2v5h-2zM99,281h2v5h-2zM129,281h12v1h-12zM189,281h2v5h-2zM219,281h2v5h-2zM258,281h2v5h-2zM328,281h2v5h-2zM348,281h2v5h-2zM418,281h2v5h-2zM448,281h2v5h-2zM478,281h2v5h-2zM129,282h2v4h-2zM48,286h4v9h-4zM98,286h4v9h-4zM128,286h2v9h-2zM160,286h2v9h-2zM188,286h4v9h-4zM218,286h4v9h-4zM258,286h3v1h-3zM327,286h4v9h-4zM347,286h4v9h-4zM417,286h4v9h-4zM447,286h4v9h-4zM477,286h4v8h-4zM257,287h4v8h-4zM382,291h2v18h-2zM394,291h2v18h-2zM477,294h2v1h-2zM480,294h2v8h-2zM47,295h2v9h-2zM51,295h2v9h-2zM97,295h2v9h-2zM101,295h2v9h-2zM127,295h2v9h-2zM161,295h2v9h-2zM187,295h2v9h-2zM191,295h2v9h-2zM217,295h2v9h-2zM221,295h2v9h-2zM257,295h2v2h-2zM260,295h2v9h-2zM326,295h2v9h-2zM330,295h2v9h-2zM346,295h2v9h-2zM350,295h2v9h-2zM416,295h2v9h-2zM420,295h2v9h-2zM446,295h2v9h-2zM450,295h2v9h-2zM476,295h2v9h-2zM256,297h2v10h-2zM481,302h2v8h-2zM46,304h2v9h-2zM52,304h2v9h-2zM96,304h2v9h-2zM102,304h2v9h-2zM126,304h2v9h-2zM162,304h2v9h-2zM186,304h2v9h-2zM192,304h2v9h-2zM216,304h2v9h-2zM222,304h2v9h-2zM261,304h2v9h-2zM325,304h2v9h-2zM331,304h2v9h-2zM345,304h2v9h-2zM351,304h2v9h-2zM415,304h2v9h-2zM421,304h2v9h-2zM445,304h2v9h-2zM451,304h2v9h-2zM475,304h2v9h-2zM255,307h2v10h-2zM381,309h2v18h-2zM395,309h2v18h-2zM482,310h2v9h-2zM45,313h2v9h-2zM53,313h2v9h-2zM95,313h2v9h-2zM103,313h2v9h-2zM125,313h2v9h-2zM163,313h2v9h-2zM185,313h2v9h-2zM193,313h2v9h-2zM215,313h2v9h-2zM223,313h2v9h-2zM262,313h2v9h-2zM324,313h2v9h-2zM332,313h2v9h-2zM344,313h2v9h-2zM352,313h2v9h-2zM414,313h2v9h-2zM422,313h2v9h-2zM444,313h2v9h-2zM452,313h2v9h-2zM474,313h2v9h-2zM254,317h2v10h-2zM483,319h2v8h-2zM44,322h2v10h-2zM54,322h2v10h-2zM94,322h2v10h-2zM104,322h2v10h-2zM124,322h2v10h-2zM164,322h2v10h-2zM184,322h2v10h-2zM194,322h2v10h-2zM214,322h2v10h-2zM224,322h2v10h-2zM263,322h2v10h-2zM323,322h2v10h-2zM333,322h2v10h-2zM343,322h2v10h-2zM353,322h2v10h-2zM413,322h2v10h-2zM423,322h2v10h-2zM443,322h2v10h-2zM453,322h2v10h-2zM473,322h2v10h-2zM253,327h2v10h-2zM380,327h2v18h-2zM396,327h2v18h-2zM484,327h2v8h-2zM43,332h2v9h-2zM55,332h2v9h-2zM93,332h2v9h-2zM105,332h2v9h-2zM123,332h2v9h-2zM165,332h2v9h-2zM183,332h2v9h-2zM195,332h2v9h-2zM213,332h2v9h-2zM225,332h2v9h-2zM264,332h2v9h-2zM322,332h2v9h-2zM334,332h2v9h-2zM342,332h2v9h-2zM354,332h2v9h-2zM412,332h2v9h-2zM424,332h2v9h-2zM442,332h2v9h-2zM454,332h2v9h-2zM472,332h2v9h-2zM485,335h2v9h-2zM252,337h2v10h-2zM42,341h2v9h-2zM56,341h2v9h-2zM92,341h2v9h-2zM106,341h2v9h-2zM122,341h2v9h-2zM166,341h2v9h-2zM182,341h2v9h-2zM196,341h2v9h-2zM212,341h2v9h-2zM226,341h2v9h-2zM265,341h2v9h-2zM321,341h2v9h-2zM335,341h2v9h-2zM341,341h2v9h-2zM355,341h2v9h-2zM411,341h2v9h-2zM425,341h2v9h-2zM441,341h2v9h-2zM455,341h2v9h-2zM471,341h2v9h-2zM486,344h2v8h-2zM379,345h2v18h-2zM397,345h2v18h-2zM251,347h2v10h-2zM41,350h2v9h-2zM57,350h2v9h-2zM91,350h2v9h-2zM107,350h2v9h-2zM121,350h2v9h-2zM167,350h2v9h-2zM181,350h2v9h-2zM197,350h2v9h-2zM211,350h2v9h-2zM227,350h2v9h-2zM266,350h2v9h-2zM320,350h2v9h-2zM336,350h2v9h-2zM340,350h2v9h-2zM356,350h2v9h-2zM410,350h2v9h-2zM426,350h2v9h-2zM440,350h2v9h-2zM456,350h2v9h-2zM470,350h2v9h-2zM487,352h2v8h-2zM250,357h2v10h-2zM40,359h2v9h-2zM58,359h2v9h-2zM90,359h2v9h-2zM108,359h2v9h-2zM120,359h2v9h-2zM168,359h2v9h-2zM180,359h2v9h-2zM198,359h2v9h-2zM210,359h2v9h-2zM228,359h2v9h-2zM267,359h2v9h-2zM319,359h2v9h-2zM337,359h4v9h-4zM357,359h2v9h-2zM409,359h2v9h-2zM427,359h2v9h-2zM439,359h2v9h-2zM457,359h2v9h-2zM469,359h2v9h-2zM488,360h2v8h-2zM378,363h2v8h-2zM398,363h2v8h-2zM249,367h2v4h-2zM39,368h2v5h-2zM59,368h2v3h-2zM89,368h2v3h-2zM109,368h2v3h-2zM119,368h2v3h-2zM169,368h2v3h-2zM179,368h2v3h-2zM199,368h2v3h-2zM209,368h2v3h-2zM229,368h2v3h-2zM268,368h2v3h-2zM318,368h2v3h-2zM338,368h2v5h-2zM358,368h2v3h-2zM408,368h2v3h-2zM428,368h2v3h-2zM438,368h2v3h-2zM458,368h2v3h-2zM468,368h2v3h-2zM489,368h2v3h-2zM59,371h32v2h-32zM109,371h12v2h-12zM169,371h12v2h-12zM199,371h12v2h-12zM229,371h22v2h-22zM268,371h52v2h-52zM358,371h22v2h-22zM398,371h12v2h-12zM428,371h12v2h-12zM458,371h12v2h-12zM489,371h71v2h-71z"/>
<rect x="156.5" y="398.5" width="287" height="39" fill="none" stroke="#000" stroke-width="1"/>
<path fill="#cc0000" d="M163,416h5v2h-5zM171,416h5v1h-5zM178,416h5v2h-5zM170,417h5v1h-5z"/>
<path fill="#0000bb" d="M303,416h22v2h-22z"/>
</g>
<text transform="translate(40,388.7) scale(0.9887,1)" text-anchor="middle" class="mb">2021-05</text>
<text transform="translate(100,388.7) scale(0.9887,1)" text-anchor="middle" class="mb">2021-11</text>
<text transform="translate(159,388.7) scale(0.9887,1)" text-anchor="middle" class="mb">2022-05</text>
<text transform="translate(219,388.7) scale(0.9887,1)" text-anchor="middle" class="mb">2022-11</text>
<text transform="translate(279,388.7) scale(0.9887,1)" text-anchor="middle" class="mb">2023-05</text>
<text transform="translate(339,388.7) scale(0.9887,1)" text-anchor="middle" class="mb">2023-11</text>
<text transform="translate(399,388.7) scale(0.9887,1)" text-anchor="middle" class="mb">2024-05</text>
<text transform="translate(459,388.7) scale(0.9887,1)" text-anchor="middle" class="mb">2024-11</text>
<text transform="translate(518,388.7) scale(0.9887,1)" text-anchor="middle" class="mb">2025-05</text>
<text transform="translate(35.5,375.7) scale(0.9887,1)" text-anchor="end" class="mb">0</text>
<text transform="translate(564.5,375.7) scale(0.9887,1)" text-anchor="start" class="mb">0</text>
<text transform="translate(35.5,194.7) scale(0.9887,1)" text-anchor="end" class="mb">2</text>
<text transform="translate(564.5,194.7) scale(0.9887,1)" text-anchor="start" class="mb">2</text>
<text transform="translate(35.5,13.7) scale(0.9887,1)" text-anchor="end" class="mb">4</text>
<text transform="translate(564.5,13.7) scale(0.9887,1)" text-anchor="start" class="mb">4</text>
<text transform="translate(190.4,421.7) scale(0.9887,1)" text-anchor="start" class="mb">Abstract Views</text>
<text transform="translate(330.4,421.7) scale(0.9887,1)" text-anchor="start" class="mb">File Downloads</text>
<text transform="translate(19.6,264.2) rotate(-90) scale(1,0.92)" class="lg"># Abstract Views</text>
<text transform="translate(589.8,268.2) rotate(-90) scale(1,0.92)" class="lg"># File Downloads</text>
</svg>
</body></html>
